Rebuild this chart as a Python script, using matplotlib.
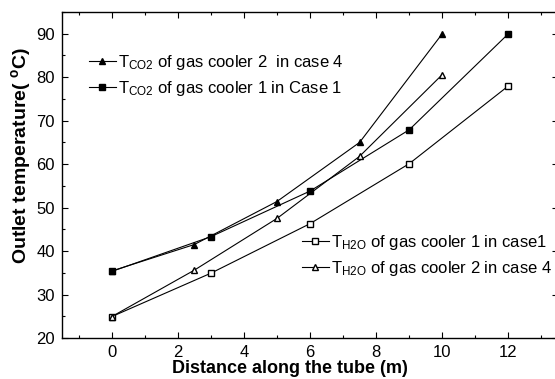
import matplotlib
matplotlib.use("Agg")
import matplotlib.pyplot as plt
from matplotlib.ticker import MultipleLocator

plt.rcParams['font.family'] = ['Liberation Sans', 'DejaVu Sans']
plt.rcParams['mathtext.fontset'] = 'custom'
plt.rcParams['mathtext.rm'] = 'Liberation Sans'
plt.rcParams['mathtext.it'] = 'Liberation Sans:italic'
plt.rcParams['mathtext.bf'] = 'Liberation Sans:bold'

# Data
x_case4 = [0, 2.5, 5, 7.5, 10]
x_case1 = [0, 3, 6, 9, 12]
tco2_gc2_case4 = [35.4, 41.5, 51.4, 65.0, 90.0]
tco2_gc1_case1 = [35.3, 43.3, 53.8, 67.9, 90.0]
th2o_gc1_case1 = [24.9, 34.9, 46.3, 60.1, 78.0]
th2o_gc2_case4 = [24.9, 35.6, 47.5, 61.8, 80.6]

labels = [
    r'T$_{\mathrm{CO2}}$ of gas cooler 2  in case 4',
    r'T$_{\mathrm{CO2}}$ of gas cooler 1 in Case 1',
    r'T$_{\mathrm{H2O}}$ of gas cooler 1 in case1',
    r'T$_{\mathrm{H2O}}$ of gas cooler 2 in case 4',
]
xticks = [0, 2, 4, 6, 8, 10, 12]
yticks = [20, 30, 40, 50, 60, 70, 80, 90]

W, H = 555, 379
fig = plt.figure(figsize=(W / 100, H / 100), dpi=100)
ax = fig.add_axes([62 / W, 1 - 338 / H, 496 / W, 326 / H])

lw = 0.8
ms = 4.5
l1, = ax.plot(x_case4, tco2_gc2_case4, '-^', color='black', lw=lw, ms=ms + 0.5, mfc='black')
l2, = ax.plot(x_case1, tco2_gc1_case1, '-s', color='black', lw=lw, ms=ms, mfc='black')
l3, = ax.plot(x_case1, th2o_gc1_case1, '-s', color='black', lw=lw, ms=ms, mfc='white')
l4, = ax.plot(x_case4, th2o_gc2_case4, '-^', color='black', lw=lw, ms=ms + 0.5, mfc='white')

ax.set_xlim(-1.5, 13.5)
ax.set_ylim(20, 95)
ax.set_xticks(xticks)
ax.set_yticks(yticks)
ax.xaxis.set_minor_locator(MultipleLocator(1))
ax.yaxis.set_minor_locator(MultipleLocator(5))
ax.tick_params(which='both', direction='in', top=True, right=True, labelsize=12, width=0.8)
ax.tick_params(which='major', length=4, pad=5)
ax.tick_params(which='minor', length=2)
for s in ax.spines.values():
    s.set_linewidth(1.0)

ax.set_xlabel('Distance along the tube (m)', fontsize=13, fontweight='bold')
ax.xaxis.set_label_coords((290 - 62) / 496, -0.068)
fig.text(21 / W, 1 - 156 / H, r'Outlet temperature( $^{\mathbf{o}}$C)', fontsize=14,
         fontweight='bold', rotation=90, ha='center', va='center')

common = dict(frameon=False, fontsize=12, handlelength=1.6, handletextpad=0.15,
              borderpad=0, borderaxespad=0, labelspacing=0.4, loc='upper left')
leg1 = fig.legend([l1, l2], labels[:2], bbox_to_anchor=(89 / W, 1 - 53 / H), **common)
leg2 = fig.legend([l3, l4], labels[2:], bbox_to_anchor=(302 / W, 1 - 233 / H), **common)

fig.savefig('out.png', dpi=100)
